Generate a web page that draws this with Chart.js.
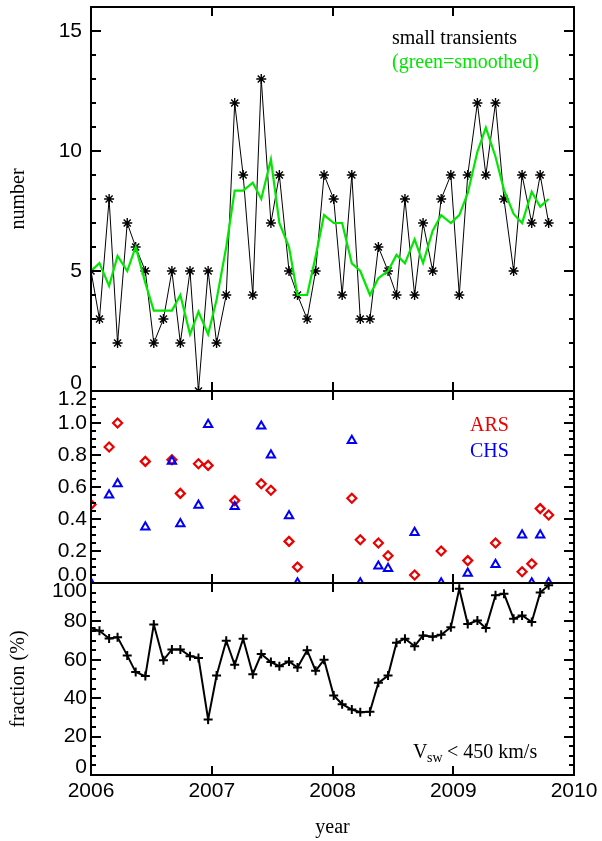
<!DOCTYPE html>
<html>
<head>
<meta charset="utf-8">
<script src="https://cdn.jsdelivr.net/npm/chart.js@4.4.1/dist/chart.umd.min.js"></script>
<style>
  html, body { margin: 0; padding: 0; background: #fff; }
  #wrap { position: relative; width: 602px; height: 841px; }
  #wrap canvas { position: absolute; left: 0; top: 0; }
</style>
</head>
<body>
<div id="wrap">
  <canvas id="topChart" width="602" height="841"></canvas>
  <canvas id="midChart" width="602" height="841"></canvas>
  <canvas id="botChart" width="602" height="841"></canvas>
</div>
<script>
// start of each Carrington rotation (fractional year)
const rotationStart = [2006.00, 2006.07, 2006.15, 2006.22, 2006.30, 2006.37, 2006.45, 2006.52, 2006.60, 2006.67,
  2006.74, 2006.82, 2006.89, 2006.97, 2007.04, 2007.12, 2007.19, 2007.26, 2007.34, 2007.41,
  2007.49, 2007.56, 2007.64, 2007.71, 2007.79, 2007.86, 2007.93, 2008.01, 2008.08, 2008.16,
  2008.23, 2008.31, 2008.38, 2008.46, 2008.53, 2008.60, 2008.68, 2008.75, 2008.83, 2008.90,
  2008.98, 2009.05, 2009.12, 2009.20, 2009.27, 2009.35, 2009.42, 2009.50, 2009.57, 2009.65,
  2009.72, 2009.79];

// top panel: number of small transients per rotation, and its smoothed version
const transients = [5, 3, 8, 2, 7, 6, 5, 2, 3, 5, 2, 5, 0, 5, 2, 4, 12, 9, 4, 13,
  7, 9, 5, 4, 3, 5, 9, 8, 4, 9, 3, 3, 6, 5, 4, 8, 4, 7, 5, 8,
  9, 4, 9, 12, 9, 12, 8, 5, 9, 7, 9, 7];
const smoothed = [5.0, 5.33, 4.38, 5.63, 5.0, 6.0, 4.5, 3.35, 3.35, 3.35, 4.0, 2.36, 3.3, 2.36, 3.8, 6.0, 8.35, 8.35, 8.68, 8.0,
  9.65, 7.0, 6.0, 4.0, 4.0, 5.6, 7.33, 7.0, 7.0, 5.32, 5.0, 4.0, 4.7, 5.0, 5.67, 5.32, 6.32, 5.33, 6.68, 7.33,
  7.0, 7.33, 8.24, 9.97, 10.97, 9.76, 8.38, 7.38, 7.0, 8.3, 7.68, 8.0];

// middle panel: fraction associated with active regions / coronal holes
const arsFraction = [0.49, null, 0.85, 1.0, null, null, 0.76, null, null, 0.77,
  0.56, null, 0.745, 0.735, null, null, 0.515, null, null, 0.62,
  0.58, null, 0.26, 0.10, null, null, null, null, null, 0.53,
  0.27, null, 0.25, 0.17, null, null, 0.05, null, null, 0.20,
  null, null, 0.14, null, null, 0.25, null, null, 0.07, 0.12,
  0.465, 0.425];
const chsFraction = [0, null, 0.55, 0.62, null, null, 0.35, null, null, 0.76,
  0.37, null, 0.485, 0.99, null, null, 0.477, null, null, 0.98,
  0.80, null, 0.42, 0, null, null, null, null, null, 0.89,
  0, null, 0.105, 0.09, null, null, 0.315, null, null, 0,
  null, null, 0.06, null, null, 0.115, null, null, 0.30, 0,
  0.30, 0];

// bottom panel: fraction (%) in slow wind
const slowFraction = [76.5, 75.1, 71.1, 71.7, 62.3, 53.6, 51.5, 78.4, 59.8, 65.4,
  65.4, 61.9, 61.0, 28.9, 51.8, 69.9, 57.4, 71.0, 52.5, 63.0,
  58.8, 56.7, 59.1, 56.0, 65.0, 54.3, 60.0, 41.4, 36.9, 34.1,
  32.7, 33.0, 48.0, 51.8, 68.9, 71.0, 67.1, 72.7, 72.0, 73.0,
  77.0, 97.0, 78.6, 80.5, 76.5, 93.6, 94.4, 81.4, 83.1, 79.7,
  95.0, 98.8];

const GREEN = 'rgb(0,232,0)';
const RED = 'rgb(235,0,0)';
const BLUE = 'rgb(0,0,250)';

const tickFont = { family: 'Liberation Sans', size: 21, lineHeight: '16px' };
const serif = { family: 'Liberation Serif', size: 20 };

const pts = arr => rotationStart.map((x, i) => ({ x: x, y: arr[i] }));

// frame + inward tick marks on all four sides
const framePlugin = {
  id: 'frame',
  afterDatasetsDraw(chart, args, opts) {
    const { ctx, chartArea: a, scales: { x, y } } = chart;
    ctx.save();
    ctx.strokeStyle = '#000';
    ctx.lineWidth = 2;
    ctx.strokeRect(a.left, a.top, a.right - a.left, a.bottom - a.top);
    ctx.beginPath();
    x.ticks.forEach(t => {
      const px = Math.round(x.getPixelForValue(t.value));
      ctx.moveTo(px, a.bottom); ctx.lineTo(px, a.bottom - 9);
      ctx.moveTo(px, a.top); ctx.lineTo(px, a.top + 9);
    });
    const n = Math.round((y.max - y.min) / opts.minor);
    const every = Math.round(opts.major / opts.minor);
    for (let i = 0; i <= n; i++) {
      const py = Math.round(y.getPixelForValue(y.min + i * opts.minor));
      const len = i % every === 0 ? 10 : 5;
      ctx.moveTo(a.left, py); ctx.lineTo(a.left + len, py);
      ctx.moveTo(a.right, py); ctx.lineTo(a.right - len, py);
    }
    ctx.stroke();
    ctx.restore();
  }
};

function notes(items) {
  return {
    id: 'notes',
    afterDraw(chart) {
      const ctx = chart.ctx;
      ctx.save();
      ctx.textBaseline = 'alphabetic';
      items.forEach(n => {
        ctx.font = (n.size || 20) + 'px "Liberation Serif"';
        ctx.fillStyle = n.color || '#000';
        ctx.fillText(n.text, n.x, n.y);
      });
      ctx.restore();
    }
  };
}

function xAxis(show) {
  return {
    type: 'linear', min: 2006, max: 2010,
    grid: { display: false, drawTicks: false },
    border: { display: false },
    ticks: { display: show, stepSize: 1, padding: 4, color: '#000', maxRotation: 0, autoSkip: false,
      font: { family: 'Liberation Sans', size: 21 }, callback: v => String(v) },
    title: { display: show, text: 'year', color: '#000', font: serif, padding: { top: 12, bottom: 0 } },
    afterFit: s => { s.height = show ? 65 : 0; s.paddingLeft = 0; s.paddingRight = 0; }
  };
}

function yAxis(min, max, step, fmt, pad, title) {
  return {
    min: min, max: max,
    grid: { display: false, drawTicks: false },
    border: { display: false },
    ticks: {
      stepSize: step, includeBounds: false, autoSkip: false, padding: pad, color: '#000', font: tickFont,
      callback: v => {
        const s = fmt(v);
        if (Math.abs(v - min) < 1e-6) return [s, ''];
        if (Math.abs(v - max) < 1e-6) return ['', s];
        return s;
      }
    },
    title: { display: !!title, text: title || '', color: '#000', font: serif, padding: { top: 7, bottom: 0 } },
    afterFit: s => { s.width = 91; s.paddingTop = 0; s.paddingBottom = 0; }
  };
}

const common = { responsive: false, animation: false, devicePixelRatio: 1 };

new Chart(document.getElementById('topChart'), {
  type: 'line',
  data: {
    datasets: [{
      label: 'smoothed',
      data: pts(smoothed),
      borderColor: GREEN, borderWidth: 2.2, pointRadius: 0, tension: 0, order: 0, clip: 0
    }, {
      label: 'small transients',
      data: pts(transients),
      borderColor: '#000', borderWidth: 1, tension: 0, order: 1, clip: 0,
      pointStyle: 'star', pointRadius: 5, pointBorderColor: '#000', pointBorderWidth: 1.4
    }]
  },
  options: Object.assign({}, common, {
    layout: { padding: { top: 7, bottom: 450, left: 0, right: 28 } },
    plugins: { legend: { display: false }, tooltip: { enabled: false }, frame: { minor: 1, major: 5 } },
    scales: {
      x: xAxis(false),
      y: yAxis(0, 16, 5, v => String(v), 9, 'number')
    }
  }),
  plugins: [framePlugin, notes([
    { text: 'small transients', x: 392, y: 43.5 },
    { text: '(green=smoothed)', x: 392, y: 68, color: GREEN }
  ])]
});

new Chart(document.getElementById('midChart'), {
  type: 'scatter',
  data: {
    datasets: [{
      label: 'CHS',
      data: pts(chsFraction),
      pointStyle: 'triangle', pointRadius: 4.8, pointBorderColor: BLUE, pointBackgroundColor: 'rgba(0,0,0,0)',
      pointBorderWidth: 2, order: 0, clip: 0
    }, {
      label: 'ARS',
      data: pts(arsFraction),
      pointStyle: 'rectRot', pointRadius: 4.5, pointBorderColor: RED, pointBackgroundColor: 'rgba(0,0,0,0)',
      pointBorderWidth: 2.2, order: 1, clip: 0
    }]
  },
  options: Object.assign({}, common, {
    layout: { padding: { top: 391, bottom: 258, left: 0, right: 28 } },
    plugins: { legend: { display: false }, tooltip: { enabled: false }, frame: { minor: 0.05, major: 0.2 } },
    scales: {
      x: xAxis(false),
      y: yAxis(0, 1.2, 0.2, v => v.toFixed(1), 4, '')
    }
  }),
  plugins: [framePlugin, notes([
    { text: 'ARS', x: 470, y: 430.5, color: RED },
    { text: 'CHS', x: 470, y: 456.5, color: BLUE }
  ])]
});

new Chart(document.getElementById('botChart'), {
  type: 'line',
  data: {
    datasets: [{
      label: 'fraction',
      data: pts(slowFraction),
      borderColor: '#000', borderWidth: 2, tension: 0, clip: 0,
      pointStyle: 'cross', pointRadius: 4.5, pointBorderColor: '#000', pointBorderWidth: 2
    }]
  },
  options: Object.assign({}, common, {
    layout: { padding: { top: 583, bottom: 1, left: 0, right: 28 } },
    plugins: { legend: { display: false }, tooltip: { enabled: false }, frame: { minor: 5, major: 20 } },
    scales: {
      x: xAxis(true),
      y: yAxis(0, 100, 20, v => String(v), 4, 'fraction (%)')
    }
  }),
  plugins: [framePlugin, notes([
    { text: 'V', x: 413, y: 758 },
    { text: 'sw', x: 427, y: 762, size: 14 },
    { text: '< 450 km/s', x: 447, y: 758 }
  ])]
});
</script>
</body>
</html>
